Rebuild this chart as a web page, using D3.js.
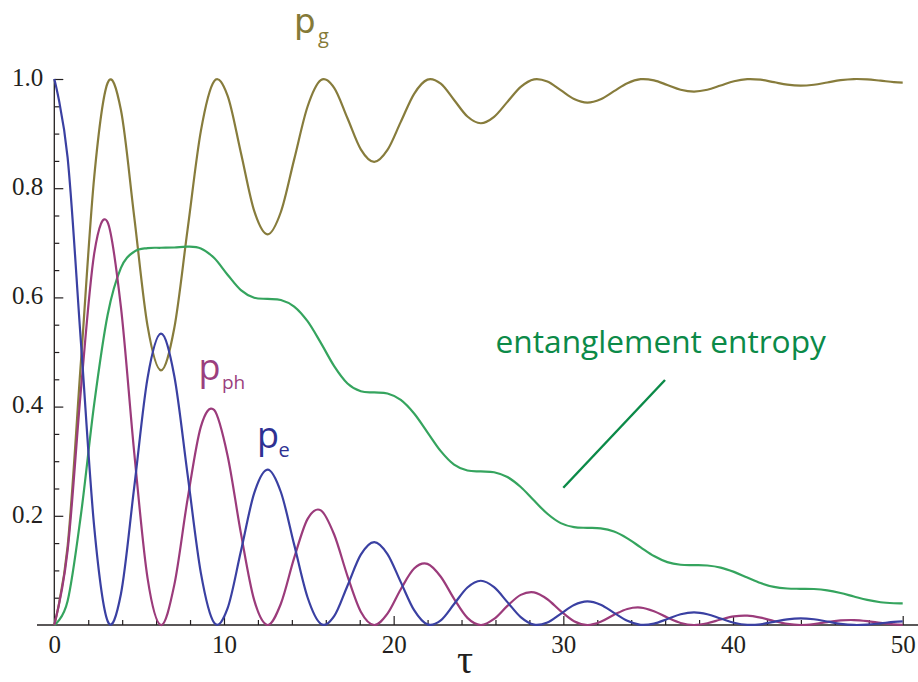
<!DOCTYPE html>
<html><head><meta charset="utf-8">
<script src="https://cdn.jsdelivr.net/npm/d3@7"></script>
<style>html,body{margin:0;padding:0;background:#fff;} svg{display:block;}</style>
</head><body>
<script>
// sample times (tau)
const tau = [0, 0.785, 1.571, 2.356, 3.142, 3.927, 4.712, 5.498, 6.283, 7.069, 7.854, 8.639, 9.425, 10.21, 10.996, 11.781, 12.566, 13.352, 14.137, 14.923, 15.708, 16.493, 17.279, 18.064, 18.85, 19.635, 20.42, 21.206, 21.991, 22.777, 23.562, 24.347, 25.133, 25.918, 26.704, 27.489, 28.274, 29.06, 29.845, 30.631, 31.416, 32.201, 32.987, 33.772, 34.558, 35.343, 36.128, 36.914, 37.699, 38.485, 39.27, 40.055, 40.841, 41.626, 42.412, 43.197, 43.982, 44.768, 45.553, 46.338, 47.124, 47.909, 48.695, 49.48, 50];
// p_e (blue)
const pE = [1.0, .8558, .5171, .1783, .0073, .0569, .2528, .4526, .5335, .4566, .2759, .0951, .0039, .0304, .1349, .2415, .2846, .2436, .1472, .0508, .0021, .0162, .0720, .1288, .1518, .1299, .0785, .0271, .0011, .0086, .0384, .0687, .0810, .0693, .0419, .0145, .0006, .0046, .0205, .0367, .0432, .0370, .0223, .0077, .0003, .0025, .0109, .0196, .0231, .0197, .0119, .0041, .0002, .0013, .0058, .0104, .0123, .0105, .0064, .0022, .0001, .0007, .0031, .0056, .0065];
// p_ph (magenta)
const pPh = [0, .1367, .4316, .6811, .7377, .5821, .3152, .0854, 0, .0730, .2303, .3634, .3936, .3106, .1682, .0455, 0, .0389, .1228, .1939, .2100, .1657, .0897, .0243, 0, .0208, .0655, .1034, .1120, .0884, .0479, .0130, 0, .0111, .0350, .0552, .0598, .0472, .0255, .0069, 0, .0059, .0187, .0294, .0319, .0252, .0136, .0037, 0, .0032, .0100, .0157, .0170, .0134, .0073, .0020, 0, .0017, .0053, .0084, .0091, .0072, .0039, .0011, .0001];
// p_g (olive)
const pG = [0, .1442, .4829, .8217, .9927, .9431, .7472, .5474, .4665, .5434, .7241, .9049, .9961, .9697, .8651, .7585, .7154, .7564, .8528, .9492, .9979, .9838, .9281, .8712, .8482, .8701, .9215, .9729, .9989, .9914, .9616, .9313, .9190, .9307, .9581, .9856, .9994, .9954, .9795, .9633, .9568, .9630, .9777, .9923, .9997, .9975, .9891, .9804, .9770, .9803, .9881, .9959, .9998, .9987, .9942, .9896, .9877, .9895, .9936, .9978, .9999, .9993, .9969, .9944, .9935];
// entanglement entropy (green)
const entropy = [0, .0439, .2024, .4059, .5677, .6540, .6839, .6903, .6909, .6914, .6931, .6897, .6720, .6416, .6134, .5994, .5973, .5953, .5833, .5564, .5167, .4742, .4424, .4281, .4259, .4239, .4123, .3874, .3530, .3185, .2938, .2829, .2812, .2798, .2710, .2527, .2279, .2037, .1866, .1792, .1780, .1770, .1711, .1587, .1423, .1263, .1152, .1104, .1097, .1090, .1052, .0973, .0869, .0768, .0698, .0668, .0663, .0659, .0635, .0586, .0521, .0459, .0417, .0398, .0396];

const xTicks = [0, 10, 20, 30, 40, 50];
const xTickLabels = ["0", "10", "20", "30", "40", "50"];
const yTicks = [0.2, 0.4, 0.6, 0.8, 1.0];
const yTickLabels = ["0.2", "0.4", "0.6", "0.8", "1.0"];

const W = 918, H = 682;
const svg = d3.select("body").append("svg").attr("width", W).attr("height", H);
const x = d3.scaleLinear().domain([0, 50]).range([54.3, 902.7]);
const y = d3.scaleLinear().domain([0, 1]).range([625, 79]);
const axisColor = "#231f20";

// minor ticks
const yMinor = d3.range(0, 1.0001, 0.05).filter(v => Math.abs(v * 5 - Math.round(v * 5)) > 1e-6);
const xMinor = d3.range(0, 50.001, 2).filter(v => v % 10 !== 0);

const gy = svg.append("g").attr("transform", `translate(${x(0)},0)`);
gy.call(d3.axisLeft(y).tickValues(yMinor).tickSize(-5).tickFormat(""));
gy.call(g => g.select(".domain").remove());
const gy2 = svg.append("g").attr("transform", `translate(${x(0)},0)`);
gy2.call(d3.axisLeft(y).tickValues(yTicks).tickSize(-9).tickPadding(11)
  .tickFormat((d, i) => yTickLabels[i]));
gy2.call(g => g.select(".domain").remove());
gy2.selectAll("text").attr("dy", "0.25em");

const gx = svg.append("g").attr("transform", `translate(0,${y(0)})`);
gx.call(d3.axisBottom(x).tickValues(xMinor).tickSize(-5).tickFormat(""));
gx.call(g => g.select(".domain").remove());
const gx2 = svg.append("g").attr("transform", `translate(0,${y(0)})`);
gx2.call(d3.axisBottom(x).tickValues(xTicks).tickSize(-9).tickPadding(10)
  .tickFormat((d, i) => xTickLabels[i]));
gx2.call(g => g.select(".domain").remove());

svg.selectAll(".tick line").attr("stroke", axisColor).attr("stroke-width", 1.2);
svg.selectAll(".tick text").attr("fill", axisColor)
  .style("font-family", "'Liberation Serif', 'Times New Roman', serif").style("font-size", "25px");

// axis lines
svg.append("line").attr("x1", 37).attr("x2", 918).attr("y1", y(0)).attr("y2", y(0))
  .attr("stroke", axisColor).attr("stroke-width", 1.3);
svg.append("line").attr("x1", x(0)).attr("x2", x(0)).attr("y1", y(1)).attr("y2", y(0))
  .attr("stroke", axisColor).attr("stroke-width", 1.3);

// curves
const series = [
  {vals: pG, color: "#877c3c"},
  {vals: entropy, color: "#35a45e"},
  {vals: pPh, color: "#9b3b7b"},
  {vals: pE, color: "#3a40a2"}
];
const line = d3.line().x((d, i) => x(tau[i])).y(d => y(d)).curve(d3.curveCardinal.tension(0));
series.forEach(s => {
  svg.append("path").datum(s.vals).attr("d", line)
    .attr("fill", "none").attr("stroke", s.color).attr("stroke-width", 2.2)
    .attr("stroke-linejoin", "round");
});

// labels
const sans = "'Open Sans', 'Noto Sans', sans-serif";
function label(tx, ty, main, sub, sx, sy, color, subSize, mainFont, mainSize) {
  svg.append("text").attr("x", tx).attr("y", ty).text(main)
    .style("font-family", mainFont || sans).style("font-size", (mainSize || 36) + "px").attr("fill", color);
  svg.append("text").attr("x", sx).attr("y", sy).text(sub)
    .style("font-family", sans).style("font-size", subSize + "px").attr("fill", color);
}
label(294, 32.5, "p", "g", 318, 43, "#857a38", 20, "'DejaVu Sans', sans-serif", 34);
label(198.5, 380, "p", "ph", 222, 389, "#9b3f7e", 19);
label(257, 448, "p", "e", 278.5, 457, "#2e3192", 20);

svg.append("text").attr("x", 495.5).attr("y", 353).text("entanglement entropy")
  .style("font-family", sans).style("font-size", "31.7px").attr("fill", "#0b8a48");
svg.append("line").attr("x1", 563.3).attr("y1", 487.7).attr("x2", 665).attr("y2", 380)
  .attr("stroke", "#0b8a48").attr("stroke-width", 2.4);

// axis title
svg.append("text").attr("x", 465).attr("y", 673).attr("text-anchor", "middle").text("τ")
  .style("font-family", "'Liberation Serif', 'Times New Roman', serif").style("font-size", "40px")
  .attr("fill", axisColor);
</script>
</body></html>
